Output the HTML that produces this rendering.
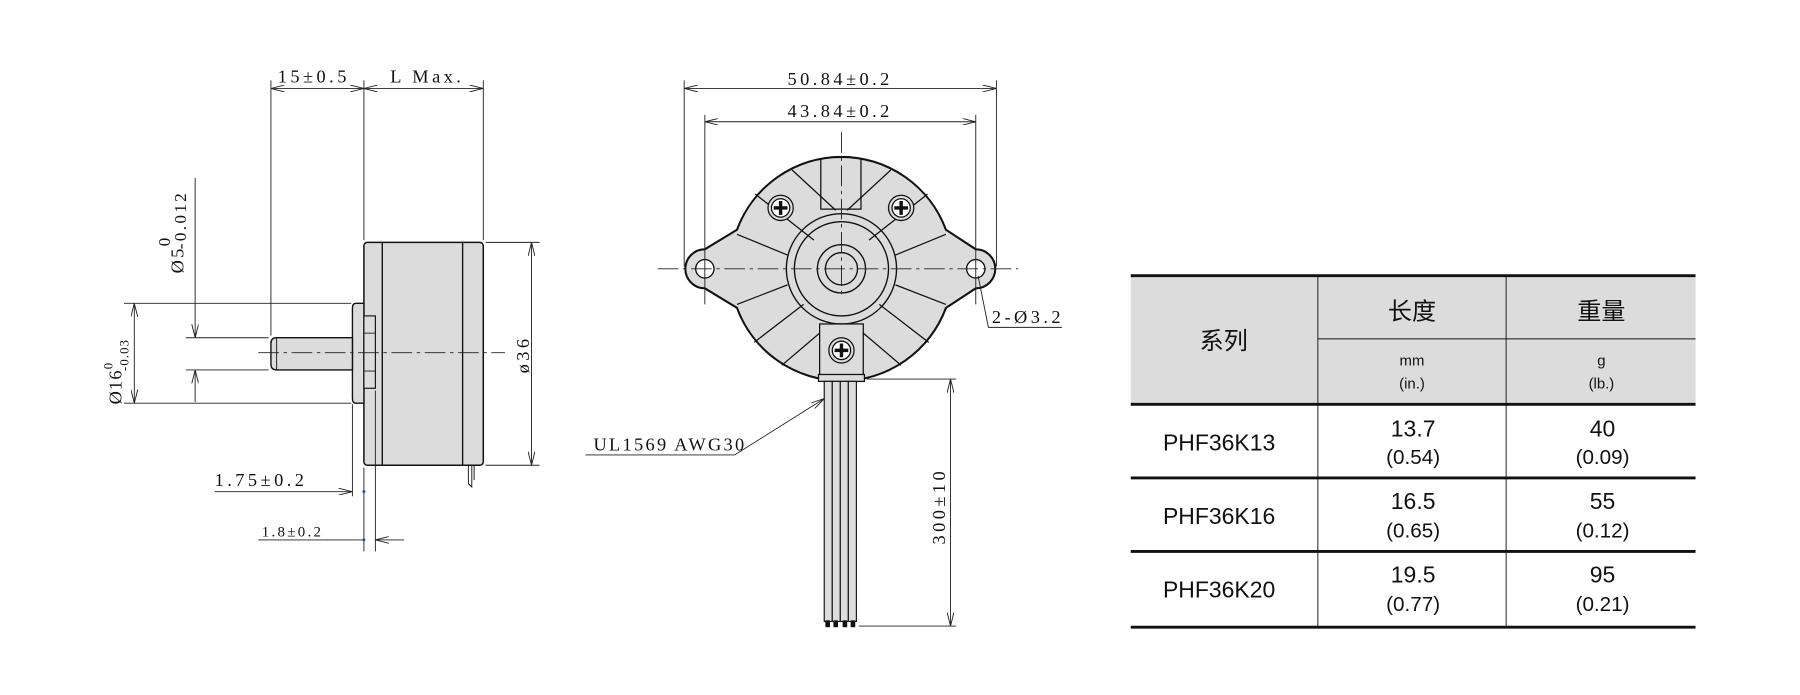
<!DOCTYPE html>
<html><head><meta charset="utf-8"><style>
html,body{margin:0;padding:0;background:#fff;width:1800px;height:695px;overflow:hidden}
svg{display:block}
.d{font-family:"Liberation Serif","Noto Serif CJK SC",serif;font-size:16px;fill:#111;letter-spacing:3px}
.t{font-family:"Liberation Sans","Noto Sans CJK SC",sans-serif;fill:#111;text-anchor:middle}
</style></head><body>
<svg width="1800" height="695" viewBox="0 0 1568 605" preserveAspectRatio="none" xmlns="http://www.w3.org/2000/svg">
<defs>
<marker id="a" viewBox="0 0 12 6" refX="12" refY="3" markerWidth="12" markerHeight="6" orient="auto-start-reverse" markerUnits="userSpaceOnUse"><path d="M0,0 L12,3 L0,6" fill="none" stroke="#222" stroke-width="0.8"/></marker>
</defs>
<g stroke="#222" stroke-width="0.8" fill="none">
<!-- LEFT VIEW -->
<rect x="317" y="211" width="104" height="194" rx="3" fill="#dcdcdc" stroke="#111" stroke-width="1.3"/>
<line x1="333" y1="211" x2="333" y2="405" stroke="#111" stroke-width="1.2"/>
<line x1="403" y1="211" x2="403" y2="405" stroke="#111" stroke-width="1.2"/>
<path d="M317,264 L310,264 Q307,264 307,268 L307,347 Q307,351 310,351 L317,351 Z" fill="#dcdcdc" stroke="#111" stroke-width="1.2"/>
<rect x="317" y="275" width="10" height="63" fill="#dcdcdc" stroke="#111" stroke-width="1"/>
<line x1="317" y1="290" x2="327" y2="290"/><line x1="317" y1="323" x2="327" y2="323"/>
<path d="M307,294 L241,294 Q236,294 236,299 L236,317 Q236,322 241,322 L307,322 Z" fill="#dcdcdc" stroke="#111" stroke-width="1.2"/>
<line x1="241" y1="294" x2="241" y2="322" stroke="#111"/>
<line x1="225" y1="307" x2="440" y2="307" stroke-dasharray="18,4,3,4"/>
<path d="M408,405 L408,421 L411,424 L411,405 M413,405 L413,418" stroke="#111"/>
<!-- dims -->
<line x1="236" y1="70" x2="236" y2="292"/>
<line x1="317" y1="70" x2="317" y2="209"/>
<line x1="421" y1="70" x2="421" y2="209"/>
<line x1="236" y1="77" x2="317" y2="77" marker-start="url(#a)" marker-end="url(#a)"/>
<line x1="317" y1="77" x2="421" y2="77" marker-start="url(#a)" marker-end="url(#a)"/>
<line x1="423" y1="211" x2="470" y2="211"/><line x1="423" y1="405" x2="470" y2="405"/>
<line x1="463" y1="211" x2="463" y2="405" marker-start="url(#a)" marker-end="url(#a)"/>
<line x1="108" y1="264" x2="306" y2="264"/><line x1="108" y1="351" x2="306" y2="351"/>
<line x1="117" y1="264" x2="117" y2="351" marker-start="url(#a)" marker-end="url(#a)"/>
<line x1="162" y1="294" x2="234" y2="294"/><line x1="162" y1="322" x2="234" y2="322"/>
<line x1="170" y1="155" x2="170" y2="294" marker-end="url(#a)"/>
<line x1="170" y1="350" x2="170" y2="322" marker-end="url(#a)"/>
<line x1="307" y1="352" x2="307" y2="432"/>
<line x1="317" y1="407" x2="317" y2="480"/>
<line x1="327" y1="340" x2="327" y2="480"/>
<line x1="187" y1="428" x2="307" y2="428" marker-end="url(#a)"/>
<line x1="352" y1="470" x2="327" y2="470" marker-end="url(#a)"/>
<line x1="225" y1="470" x2="317" y2="470"/>
</g>
<circle cx="317" cy="428" r="1.3" fill="#2050a0"/><circle cx="317" cy="470" r="1.3" fill="#2050a0"/>
<text class="d" x="242" y="72">15±0.5</text>
<text class="d" x="340" y="72">L Max.</text>
<text class="d" x="187" y="423">1.75±0.2</text>
<text class="d" x="228" y="467" style="font-size:13px;letter-spacing:2px">1.8±0.2</text>
<text class="d" transform="translate(461,325) rotate(-90)">ø36</text>
<text class="d" transform="translate(106,352) rotate(-90)" style="letter-spacing:1px">Ø16<tspan dy="-8" font-size="11">0</tspan><tspan dx="-8" dy="14" font-size="11">-0.03</tspan></text>
<text class="d" transform="translate(160,238) rotate(-90)" style="letter-spacing:2px">Ø5<tspan dy="-12" font-size="15">0</tspan><tspan dx="-12" dy="14" font-size="15">-0.012</tspan></text>

<!-- FRONT VIEW -->
<g stroke="#111" stroke-width="1.2" fill="#dcdcdc">
<path d="M642,200 L614,217 A17,17 0 0 0 614,251 L642,268 A97,97 0 0 0 824,268 L850,251 A17,17 0 0 0 850,217 L824,200 A97,97 0 0 0 642,200 Z" stroke-width="1.8"/>
<circle cx="733" cy="234" r="48"/>
<circle cx="733" cy="234" r="41"/>
<circle cx="733" cy="234" r="21"/>
<circle cx="733" cy="234" r="14"/>
<circle cx="614" cy="234" r="8" fill="#fff"/>
<circle cx="850" cy="234" r="8" fill="#fff"/>
</g>
<g stroke="#111" stroke-width="1.1" fill="none">
<path d="M715,138 L715,182 L750,182 L750,138"/>
<path d="M658,169 L709,209 M690,148 L728,183"/>
<path d="M808,169 L757,209 M776,148 L738,183"/>
<path d="M642,204 L686,222 M642,265 L686,248"/>
<path d="M824,204 L780,222 M824,265 L780,248"/>
<path d="M657,298 L700,265 M681,318 L714,290"/>
<path d="M809,298 L766,265 M785,318 L752,290"/>
<rect x="714" y="282" width="38" height="46" fill="#dcdcdc"/>
<rect x="713" y="326" width="40" height="6" fill="#dcdcdc"/>
</g>
<g stroke="#111" stroke-width="1.1">
<circle cx="680" cy="181" r="11" fill="#dcdcdc"/><circle cx="680" cy="181" r="8" fill="#fff"/>
<path d="M674,181 H686 M680,175 V187" stroke-width="3"/>
<circle cx="785" cy="181" r="11" fill="#dcdcdc"/><circle cx="785" cy="181" r="8" fill="#fff"/>
<path d="M779,181 H791 M785,175 V187" stroke-width="3"/>
<circle cx="733" cy="305" r="11" fill="#dcdcdc"/><circle cx="733" cy="305" r="8" fill="#fff"/>
<path d="M727,305 H739 M733,299 V311" stroke-width="3"/>
</g>
<!-- wires -->
<g stroke="#111" stroke-width="1" fill="#dcdcdc">
<rect x="718" y="332" width="7" height="209"/><rect x="725" y="332" width="7" height="209"/>
<rect x="732" y="332" width="7" height="209"/><rect x="739" y="332" width="7" height="209"/>
</g>
<g fill="#111"><rect x="719" y="540" width="4" height="6"/><rect x="726" y="540" width="4" height="6"/><rect x="734" y="540" width="4" height="6"/><rect x="741" y="540" width="4" height="6"/></g>
<g stroke="#222" stroke-width="0.8" fill="none">
<line x1="733" y1="115" x2="733" y2="258" stroke-dasharray="18,4,3,4"/>
<line x1="573" y1="234" x2="887" y2="234" stroke-dasharray="18,4,3,4"/>
<line x1="596" y1="70" x2="596" y2="232"/><line x1="868" y1="70" x2="868" y2="232"/>
<line x1="614" y1="100" x2="614" y2="265"/><line x1="850" y1="100" x2="850" y2="265"/>
<line x1="596" y1="77" x2="868" y2="77" marker-start="url(#a)" marker-end="url(#a)"/>
<line x1="614" y1="106" x2="850" y2="106" marker-start="url(#a)" marker-end="url(#a)"/>
<path d="M852,240 L861,285 L925,285"/>
<path d="M510,396 L640,396"/>
<line x1="640" y1="396" x2="718" y2="347" marker-end="url(#a)"/>
<line x1="755" y1="330" x2="833" y2="330"/><line x1="748" y1="545" x2="833" y2="545"/>
<line x1="828" y1="330" x2="828" y2="545" marker-start="url(#a)" marker-end="url(#a)"/>
</g>
<text class="d" x="686" y="74">50.84±0.2</text>
<text class="d" x="686" y="102">43.84±0.2</text>
<text class="d" x="864" y="281">2-Ø3.2</text>
<text class="d" x="517" y="392" style="letter-spacing:2px">UL1569 AWG30</text>
<text class="d" transform="translate(823,474) rotate(-90)">300±10</text>

<!-- TABLE -->
<rect x="985" y="240" width="492" height="112" fill="#dcdcdc"/>
<g stroke="#111">
<line x1="985" y1="240" x2="1477" y2="240" stroke-width="2.5"/>
<line x1="985" y1="352" x2="1477" y2="352" stroke-width="2.5"/>
<line x1="985" y1="416" x2="1477" y2="416" stroke-width="2.5"/>
<line x1="985" y1="480" x2="1477" y2="480" stroke-width="2.5"/>
<line x1="985" y1="546" x2="1477" y2="546" stroke-width="2.5"/>
<line x1="1148" y1="295" x2="1477" y2="295" stroke-width="0.8"/>
<line x1="1148" y1="240" x2="1148" y2="546" stroke-width="0.8"/>
<line x1="1312" y1="240" x2="1312" y2="546" stroke-width="0.8"/>
</g>
<text class="t" x="1066" y="304" font-size="21">系列</text>
<text class="t" x="1230" y="278" font-size="21">长度</text>
<text class="t" x="1395" y="278" font-size="21">重量</text>
<text class="t" x="1230" y="318" font-size="13">mm</text>
<text class="t" x="1230" y="338" font-size="13">(in.)</text>
<text class="t" x="1395" y="318" font-size="13">g</text>
<text class="t" x="1395" y="338" font-size="13">(lb.)</text>
<g font-size="20">
<text class="t" x="1062" y="392">PHF36K13</text>
<text class="t" x="1062" y="456">PHF36K16</text>
<text class="t" x="1062" y="520">PHF36K20</text>
<text class="t" x="1231" y="380">13.7</text><text class="t" x="1231" y="404" font-size="18">(0.54)</text>
<text class="t" x="1231" y="443">16.5</text><text class="t" x="1231" y="468" font-size="18">(0.65)</text>
<text class="t" x="1231" y="507">19.5</text><text class="t" x="1231" y="532" font-size="18">(0.77)</text>
<text class="t" x="1396" y="380">40</text><text class="t" x="1396" y="404" font-size="18">(0.09)</text>
<text class="t" x="1396" y="443">55</text><text class="t" x="1396" y="468" font-size="18">(0.12)</text>
<text class="t" x="1396" y="507">95</text><text class="t" x="1396" y="532" font-size="18">(0.21)</text>
</g>
</svg>
</body></html>
